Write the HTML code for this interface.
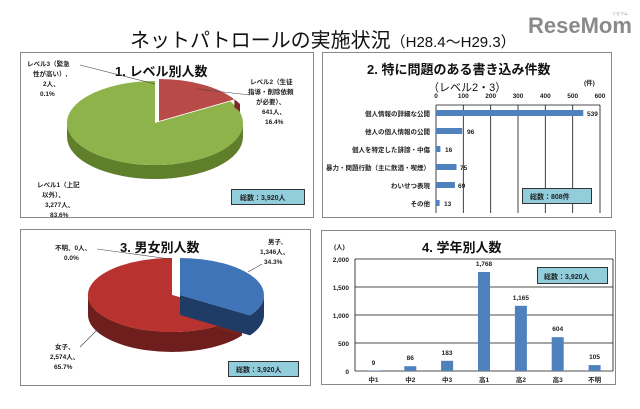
<!DOCTYPE html>
<html><head><meta charset="utf-8"><style>
html,body{margin:0;padding:0;background:#fff;}
svg{display:block;font-family:"Liberation Sans","Noto Sans CJK JP",sans-serif;}
.s{font-size:6.5px;fill:#222;font-weight:bold}
.t{font-size:7px;fill:#222;font-weight:bold}
</style></head><body>
<svg width="640" height="409" viewBox="0 0 640 409" xmlns="http://www.w3.org/2000/svg">
<rect width="640" height="409" fill="#fff"/>
<text x="130" y="47" font-size="20" fill="#111">ネットパトロールの実施状況<tspan font-size="15">（H28.4～H29.3）</tspan></text>
<text x="528" y="33" font-size="22" font-weight="bold" fill="#8a8a8a">ReseMom</text>
<text x="612" y="15" font-size="4" fill="#999">リセマム</text>

<!-- Panel 1 -->
<rect x="20.5" y="52.5" width="293" height="165" fill="#fff" stroke="#888"/>
<text x="115" y="76" font-size="13" font-weight="bold" fill="#111">1. レベル別人数</text>
<path d="M67,123 A88,42 0 0,0 243,123 L243,137 A88,42 0 0,1 67,137 Z" fill="#5f7f2a"/>
<path d="M155,123 L230.4,101.4 A88,42 0 1,1 155,81 Z" fill="#8db34a"/>
<path d="M234.4,99.4 A88,42 0 0,1 240,104 L240,112 A88,42 0 0,0 234.4,107.4 Z" fill="#7a2a28"/>
<path d="M159,121 L159,79 A88,42 0 0,1 234.4,99.4 Z" fill="#b84a47"/>
<line x1="80" y1="65" x2="155" y2="84" stroke="#444" stroke-width="0.6"/>
<line x1="197" y1="89" x2="250" y2="95" stroke="#444" stroke-width="0.6"/>
<text class="s" x="27" y="66">レベル3（緊急</text>
<text class="s" x="33" y="76">性が高い）,</text>
<text class="s" x="43" y="86">2人、</text>
<text class="s" x="40" y="96">0.1%</text>
<text class="s" x="250" y="84">レベル2（生徒</text>
<text class="s" x="248" y="94">指導・削除依頼</text>
<text class="s" x="256" y="104">が必要）、</text>
<text class="s" x="262" y="114">641人、</text>
<text class="s" x="265" y="124">16.4%</text>
<text class="s" x="37" y="187">レベル1（上記</text>
<text class="s" x="42" y="197">以外）、</text>
<text class="s" x="45" y="207">3,277人、</text>
<text class="s" x="50" y="217">83.6%</text>
<rect x="231.5" y="189.5" width="73" height="15" fill="#92cddc" stroke="#333"/>
<text class="t" x="240" y="200">総数：3,920人</text>

<!-- Panel 2 -->
<rect x="322.5" y="52.5" width="289" height="165" fill="#fff" stroke="#888"/>
<text x="367" y="74" font-size="13" font-weight="bold" fill="#111">2. 特に問題のある書き込み件数</text>
<text x="428" y="91" font-size="11" fill="#111">（レベル2・3）</text>
<text class="s" x="584" y="85">(件)</text>
<g stroke="#111" stroke-width="0.8">
<line x1="436" y1="105" x2="436" y2="213"/><line x1="463.3" y1="105" x2="463.3" y2="213"/>
<line x1="490.7" y1="105" x2="490.7" y2="213"/><line x1="518" y1="105" x2="518" y2="213"/>
<line x1="545.3" y1="105" x2="545.3" y2="213"/><line x1="572.7" y1="105" x2="572.7" y2="213"/>
<line x1="600" y1="105" x2="600" y2="213"/><line x1="436" y1="105" x2="600" y2="105"/>
</g>
<g class="s" text-anchor="middle">
<text x="436" y="98">0</text><text x="463.3" y="98">100</text><text x="490.7" y="98">200</text><text x="518" y="98">300</text><text x="545.3" y="98">400</text><text x="572.7" y="98">500</text><text x="600" y="98">600</text>
</g>
<g fill="#4f81bd">
<rect x="436" y="110" width="147.3" height="6"/>
<rect x="436" y="128" width="26.2" height="6"/>
<rect x="436" y="146" width="4.4" height="6"/>
<rect x="436" y="164" width="20.5" height="6"/>
<rect x="436" y="182" width="18.9" height="6"/>
<rect x="436" y="200" width="3.6" height="6"/>
</g>
<g class="s">
<text x="587" y="116">539</text><text x="467" y="134">96</text><text x="445" y="152">16</text>
<text x="460" y="170">75</text><text x="458" y="188">69</text><text x="444" y="206">13</text>
</g>
<g class="s" text-anchor="end">
<text x="430" y="116">個人情報の詳細な公開</text>
<text x="430" y="134">他人の個人情報の公開</text>
<text x="430" y="152">個人を特定した誹謗・中傷</text>
<text x="430" y="170">暴力・問題行動（主に飲酒・喫煙）</text>
<text x="430" y="188">わいせつ表現</text>
<text x="430" y="206">その他</text>
</g>
<rect x="522.5" y="188.5" width="69" height="15" fill="#92cddc" stroke="#333"/>
<text class="t" x="530" y="199">総数：808件</text>

<!-- Panel 3 -->
<rect x="20.5" y="229.5" width="290" height="156" fill="#fff" stroke="#888"/>
<text x="120" y="252" font-size="13" font-weight="bold" fill="#111">3. 男女別人数</text>
<path d="M242,315.4 A84,37 0 0,1 88,295 L88,315 A84,37 0 0,0 242,335.4 Z" fill="#6e1e1c"/>
<path d="M172,295 L242,315.4 L242,335.4 L172,315 Z" fill="#7a2220"/>
<path d="M172,295 L242,315.4 A84,37 0 1,1 172,258 Z" fill="#b8332f"/>
<path d="M180,295 L250,315.4 L250,335.4 L180,315 Z" fill="#1f3c66"/>
<path d="M264,295 A84,37 0 0,1 250,315.4 L250,335.4 A84,37 0 0,0 264,315 Z" fill="#1f3c66"/>
<path d="M180,295 L180,258 A84,37 0 0,1 250,315.4 Z" fill="#3f74b8"/>
<line x1="97" y1="249" x2="170" y2="259" stroke="#444" stroke-width="0.6"/>
<line x1="248" y1="272" x2="262" y2="264" stroke="#444" stroke-width="0.6"/>
<line x1="80" y1="347" x2="97" y2="330" stroke="#444" stroke-width="0.6"/>
<text class="s" x="55" y="250">不明、0人、</text>
<text class="s" x="64" y="260">0.0%</text>
<text class="s" x="268" y="244">男子,</text>
<text class="s" x="260" y="254">1,346人、</text>
<text class="s" x="264" y="264">34.3%</text>
<text class="s" x="55" y="349">女子、</text>
<text class="s" x="50" y="359">2,574人、</text>
<text class="s" x="54" y="369">65.7%</text>
<rect x="228.5" y="361.5" width="70" height="15" fill="#92cddc" stroke="#333"/>
<text class="t" x="236" y="372">総数：3,920人</text>

<!-- Panel 4 -->
<rect x="321.5" y="230.5" width="294" height="154" fill="#fff" stroke="#888"/>
<text x="422" y="252" font-size="13" font-weight="bold" fill="#111">4. 学年別人数</text>
<text class="s" x="334" y="249">(人)</text>
<g stroke="#111" stroke-width="0.8">
<line x1="355" y1="259" x2="613" y2="259"/><line x1="355" y1="287" x2="613" y2="287"/>
<line x1="355" y1="315" x2="613" y2="315"/><line x1="355" y1="343" x2="613" y2="343"/>
<line x1="355" y1="371" x2="613" y2="371"/><line x1="355" y1="259" x2="355" y2="371"/>
<line x1="613" y1="259" x2="613" y2="371"/>
</g>
<g class="s" text-anchor="end">
<text x="349" y="262">2,000</text><text x="349" y="290">1,500</text><text x="349" y="318">1,000</text><text x="349" y="346">500</text><text x="349" y="374">0</text>
</g>
<g fill="#4f81bd">
<rect x="367.4" y="370.5" width="12" height="0.5"/>
<rect x="404.3" y="366.2" width="12" height="4.8"/>
<rect x="441.1" y="360.8" width="12" height="10.2"/>
<rect x="478" y="272" width="12" height="99"/>
<rect x="514.9" y="305.8" width="12" height="65.2"/>
<rect x="551.7" y="337.2" width="12" height="33.8"/>
<rect x="588.6" y="365.1" width="12" height="5.9"/>
</g>
<g class="s" text-anchor="middle">
<text x="373.4" y="365">9</text><text x="410.3" y="360">86</text><text x="447.1" y="355">183</text>
<text x="484" y="266">1,768</text><text x="520.9" y="300">1,165</text><text x="557.7" y="331">604</text><text x="594.6" y="359">105</text>
<text x="373.4" y="382">中1</text><text x="410.3" y="382">中2</text><text x="447.1" y="382">中3</text>
<text x="484" y="382">高1</text><text x="520.9" y="382">高2</text><text x="557.7" y="382">高3</text><text x="594.6" y="382">不明</text>
</g>
<rect x="537.5" y="267.5" width="70" height="16" fill="#92cddc" stroke="#333"/>
<text class="t" x="544" y="279">総数：3,920人</text>
</svg>
</body></html>
